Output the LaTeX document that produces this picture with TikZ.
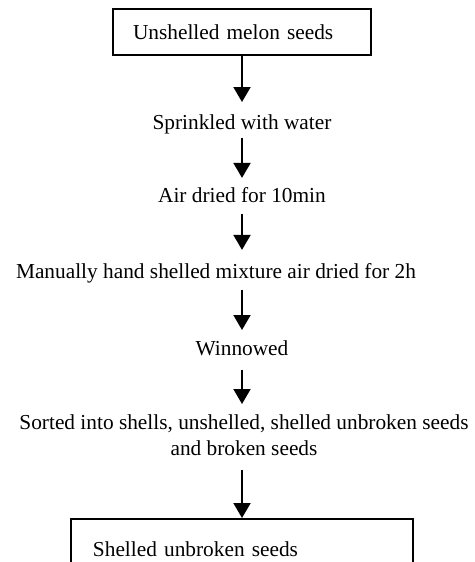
\documentclass[tikz,border=0pt]{standalone}
\usepackage{fontspec}
\setmainfont{Liberation Serif}
\usetikzlibrary{arrows.meta}
\newcommand\mystrut{\rule[-3.5pt]{0pt}{14.5pt}}
\begin{document}
\begin{tikzpicture}[x=0.75pt,y=-0.75pt,
  every node/.style={font=\fontsize{16}{19.5}\selectfont},
  stepbox/.style={draw, line width=1.5pt, align=left},
  steptext/.style={inner sep=0pt, align=center},
  arr/.style={line width=1.5pt, -{Triangle[width=12.75pt,length=11.25pt]}}]
\useasboundingbox (0,0) rectangle (475,562);
\clip (0,0) rectangle (475,562);
\node[stepbox, inner xsep=15pt, text width=163.5pt, minimum height=34.5pt] (b1) at (242,32) {Unshelled melon seeds};
\node[steptext] (s1) at (242,124) {\mystrut Sprinkled with water};
\node[steptext] (s2) at (242,197) {\mystrut Air dried for 10min};
\node[steptext] (s3) at (216,273) {\mystrut Manually hand shelled mixture air dried for 2h};
\node[steptext] (s4) at (242,350) {\mystrut Winnowed};
\node[steptext] (s5) at (244,437) {\mystrut Sorted into shells, unshelled, shelled unbroken seeds\\\mystrut and broken seeds};
\node[stepbox, inner xsep=16.5pt, text width=223.5pt, minimum height=45pt] (b6) at (242,549) {Shelled unbroken seeds};
\draw[arr, shorten >=9pt] (b1) -- (s1);
\draw[arr, shorten <=3pt, shorten >=6.75pt] (s1) -- (s2);
\draw[arr, shorten <=5.25pt, shorten >=9.75pt] (s2.south) -- (s2.south |- s3.north);
\draw[arr, shorten <=5.25pt, shorten >=7.5pt] (s4.north |- s3.south) -- (s4.north);
\draw[arr, shorten <=7.5pt, shorten >=7.5pt] (s4.south) -- (s4.south |- s5.north);
\draw[arr, shorten <=7.5pt] (b6.north |- s5.south) -- (b6.north);
\end{tikzpicture}
\end{document}
